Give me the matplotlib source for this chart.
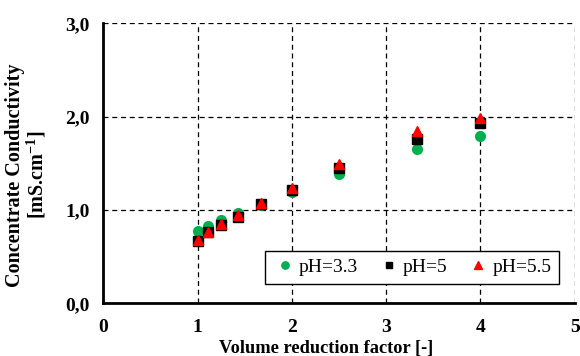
import matplotlib
matplotlib.use("Agg")
import matplotlib.pyplot as plt
from matplotlib.ticker import FuncFormatter

# volume reduction factor
vrf = [1.0, 1.11, 1.25, 1.43, 1.67, 2.0, 2.5, 3.33, 4.0]

# concentrate conductivity [mS/cm]
ph33 = [0.775, 0.83, 0.89, 0.965, 1.05, 1.19, 1.385, 1.65, 1.79]
ph5 = [0.67, 0.76, 0.84, 0.93, 1.06, 1.22, 1.455, 1.76, 1.93]
ph55 = [0.68, 0.76, 0.845, 0.945, 1.08, 1.24, 1.49, 1.85, 1.99]

labels = ["pH=3.3", "pH=5", "pH=5.5"]

plt.rcParams['font.family'] = ['Liberation Serif', 'DejaVu Serif']
plt.rcParams['mathtext.fontset'] = 'custom'
plt.rcParams['mathtext.rm'] = 'Liberation Serif:bold'
plt.rcParams['mathtext.bf'] = 'Liberation Serif:bold'

fig = plt.figure(figsize=(5.8, 3.56), dpi=100)
ax = fig.add_axes([0.178, 0.148, 0.813, 0.786])

ax.plot(vrf, ph33, 'o', color='#00B050', markersize=7, label=labels[0], zorder=3)
ax.plot(vrf, ph5, 's', color='black', markersize=6.5, label=labels[1], zorder=4)
ax.plot(vrf, ph55, '^', color='#FF0000', markersize=7.5, label=labels[2], zorder=5)

ax.set_xlim(0, 5)
ax.set_ylim(0, 3)
ax.set_xticks([0, 1, 2, 3, 4, 5])
ax.set_yticks([0, 1, 2, 3])
ax.yaxis.set_major_formatter(FuncFormatter(lambda v, p: ("%.1f" % v).replace('.', ',')))
ax.tick_params(length=0, labelsize=14)
ax.tick_params(axis='y', pad=10)
ax.tick_params(axis='x', pad=11)
for t in ax.get_xticklabels() + ax.get_yticklabels():
    t.set_fontweight('bold')

ax.grid(True, linestyle=(0, (4, 3)), color='black', linewidth=0.9)
ax.set_axisbelow(True)
ax.spines['top'].set_visible(False)
ax.spines['right'].set_visible(False)
ax.spines['left'].set_linewidth(2)
ax.spines['bottom'].set_linewidth(2)

ax.set_xlabel("Volume reduction factor [-]", fontsize=13.2, fontweight='bold')
ax.set_ylabel("Concentrate Conductivity\n[mS.cm$^{\\mathbf{-1}}$]", fontsize=14.5,
              fontweight='bold', linespacing=0.95)
ax.xaxis.set_label_coords(0.472, -0.13)
ax.yaxis.set_label_coords(-0.117, 0.458)

leg = ax.legend(loc='lower right', bbox_to_anchor=(0.967, 0.07), ncol=3, fontsize=14,
                frameon=True, fancybox=False, edgecolor='black', framealpha=1,
                handletextpad=0.15, columnspacing=0.95, handlelength=1.2,
                markerscale=0.75, borderpad=0.4, borderaxespad=0)
leg.get_frame().set_linewidth(1)

fig.savefig("out.png", dpi=100)
